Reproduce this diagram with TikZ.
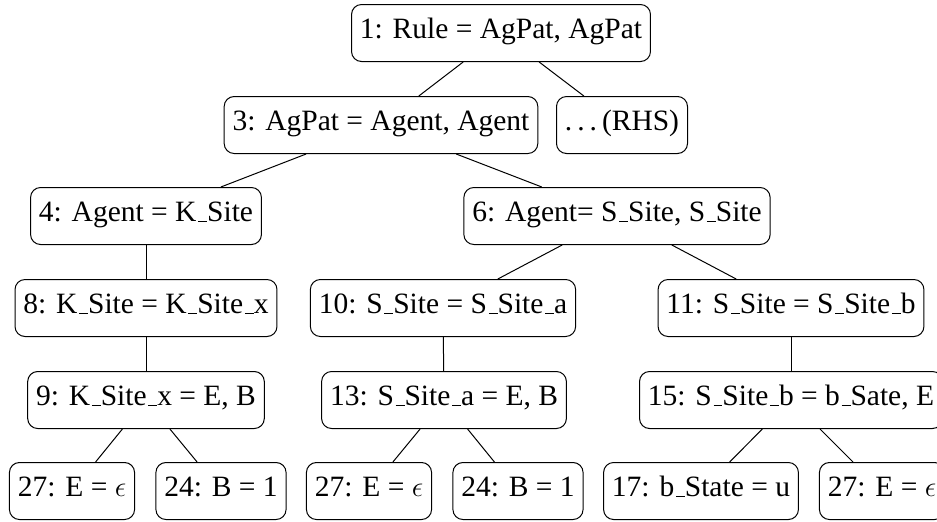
\documentclass[tikz,border=0pt]{standalone}
\usepackage{fontspec}
\setmainfont{Liberation Serif}
% low rule used as the underscore in identifiers
\newcommand{\us}{\leavevmode\kern.06em\vbox{\hrule width.3em}}
% three spaced periods
\newcommand{\threedots}{.\kern.17em.\kern.17em.\kern.17em}
\begin{document}
\begin{tikzpicture}[x=0.5pt,y=-0.5pt,
  rule/.style={draw, rounded corners=5pt, line width=0.5pt,
    inner xsep=4.2pt, minimum height=28.5pt,
    text height=0.76em, text depth=0.18em,
    font=\fontsize{14.75}{17}\selectfont},
  link/.style={line width=0.5pt}]
\useasboundingbox (0,0) rectangle (937,521);
\clip (0,0) rectangle (937,521);

% level 0
\node[rule] (n1)  at (501,33)  {1: Rule = AgPat, AgPat};
% level 1
\node[rule] (n3)  at (381,125) {3: AgPat = Agent, Agent};
\node[rule] (rhs) at (622,125) {\threedots(RHS)};
% level 2
\node[rule] (n4)  at (146,216) {4: Agent = K\us Site};
\node[rule] (n6)  at (617,216) {6: Agent= S\us Site, S\us Site};
% level 3
\node[rule] (n8)  at (146,308) {8: K\us Site = K\us Site\us x};
\node[rule] (n10) at (443,308) {10: S\us Site = S\us Site\us a};
\node[rule] (n11) at (791,308) {11: S\us Site = S\us Site\us b};
% level 4
\node[rule] (n9)  at (146,400) {9: K\us Site\us x = E, B};
\node[rule] (n13) at (444,400) {13: S\us Site\us a = E, B};
\node[rule] (n15) at (791,400) {15: S\us Site\us b = b\us Sate, E};
% leaves
\node[rule] (l1) at (72,491)  {27: E = $\epsilon$};
\node[rule] (l2) at (221,491) {24: B = 1};
\node[rule] (l3) at (369,491) {27: E = $\epsilon$};
\node[rule] (l4) at (518,491) {24: B = 1};
\node[rule] (l5) at (701,491) {17: b\us State = u};
\node[rule] (l6) at (882,491) {27: E = $\epsilon$};

% connectors
\draw[link] (n1) -- (n3);
\draw[link] (n1) -- (rhs);
\draw[link] (n3) -- (n4);
\draw[link] (n3) -- (n6);
\draw[link] (n4) -- (n8);
\draw[link] (n6) -- (n10);
\draw[link] (n6) -- (n11);
\draw[link] (n8) -- (n9);
\draw[link] (n10) -- (n13);
\draw[link] (n11) -- (n15);
\draw[link] (n9) -- (l1);
\draw[link] (n9) -- (l2);
\draw[link] (n13) -- (l3);
\draw[link] (n13) -- (l4);
\draw[link] (n15) -- (l5);
\draw[link] (n15) -- (l6);
\end{tikzpicture}
\end{document}
